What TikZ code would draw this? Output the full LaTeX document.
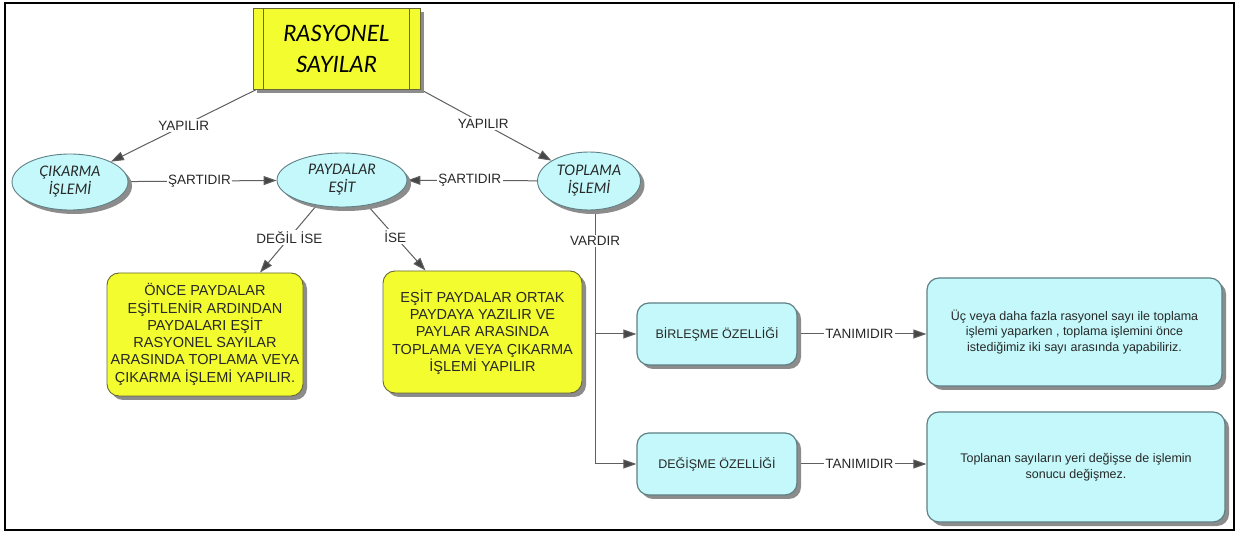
\documentclass[tikz,border=0pt]{standalone}
\usepackage{fontspec}
\setmainfont{Liberation Sans}
\newfontfamily\handfont{Lato}
\usetikzlibrary{arrows.meta,shapes.geometric,shadows,backgrounds}

\definecolor{boxyellow}{RGB}{242,252,46}
\definecolor{yellowedge}{RGB}{105,105,55}
\definecolor{paleblue}{RGB}{196,248,250}
\definecolor{blueedge}{RGB}{95,128,132}
\definecolor{linegray}{RGB}{95,95,95}
\definecolor{tipgray}{RGB}{70,70,70}
\definecolor{shade}{RGB}{140,140,140}
\definecolor{inkgray}{RGB}{40,40,40}

\begin{document}
\begin{tikzpicture}[x=1pt,y=-1pt,
  shadowed/.style={drop shadow={shadow xshift=4pt,shadow yshift=-4pt,fill=shade,opacity=1}},
  titlebox/.style={rectangle,draw=yellowedge,fill=boxyellow,line width=0.9pt,
    minimum width=167pt,minimum height=81pt,shadowed,align=center,
    font=\handfont\itshape\fontsize{22.5}{31}\selectfont},
  oval/.style={ellipse,draw=blueedge,fill=paleblue,line width=0.9pt,shadowed,
    align=center,inner sep=0pt,text=inkgray,
    font=\handfont\itshape\fontsize{14.5}{18}\selectfont},
  notebox/.style={rectangle,rounded corners=12pt,draw=yellowedge,fill=boxyellow,
    line width=0.9pt,shadowed,align=center,inner sep=2pt,text=inkgray,
    font=\fontsize{14.5}{17.3}\selectfont},
  propbox/.style={rectangle,rounded corners=12pt,draw=blueedge,fill=paleblue,
    line width=1.2pt,shadowed,align=center,inner sep=2pt,text=inkgray,
    font=\fontsize{12.5}{15.5}\selectfont},
  conn/.style={draw=linegray,line width=1pt},
  arr/.style={conn,-{Triangle[length=13pt,width=9pt,fill=tipgray]}},
  lbl/.style={fill=white,inner sep=1.5pt,text=inkgray,font=\fontsize{13.5}{15}\selectfont},
]
\useasboundingbox (0,0) rectangle (1243,534);
\begin{scope}[on background layer]
  \fill[white] (0,0) rectangle (1243,534);
\end{scope}

% title
\node[titlebox] (title) at (336.5,48.5) {RASYONEL\\SAYILAR};
\draw[yellowedge,line width=0.9pt] ([xshift=11pt]title.north west) -- ([xshift=11pt]title.south west);
\draw[yellowedge,line width=0.9pt] ([xshift=-11pt]title.north east) -- ([xshift=-11pt]title.south east);

% operations
\node[oval,minimum width=116pt,minimum height=56pt] (cik) at (70,182) {ÇIKARMA\\İŞLEMİ};
\node[oval,minimum width=130pt,minimum height=54pt] (pay) at (342,180) {PAYDALAR\\EŞİT};
\node[oval,minimum width=103pt,minimum height=58pt] (top) at (589,181) {TOPLAMA\\İŞLEMİ};

% rules for equal / unequal denominators
\node[notebox,minimum width=196pt,minimum height=123pt] (ly) at (205,334.5)
  {ÖNCE PAYDALAR\\EŞİTLENİR ARDINDAN\\PAYDALARI EŞİT\\RASYONEL SAYILAR\\ARASINDA TOPLAMA VEYA\\ÇIKARMA İŞLEMİ YAPILIR.};
\node[notebox,minimum width=199pt,minimum height=122pt] (my) at (482.5,332)
  {EŞİT PAYDALAR ORTAK\\PAYDAYA YAZILIR VE\\PAYLAR ARASINDA\\TOPLAMA VEYA ÇIKARMA\\İŞLEMİ YAPILIR};

% properties of addition
\node[propbox,minimum width=160pt,minimum height=62pt] (bir) at (717,334) {BİRLEŞME ÖZELLİĞİ};
\node[propbox,minimum width=160pt,minimum height=62pt] (deg) at (717,464) {DEĞİŞME ÖZELLİĞİ};
\node[propbox,minimum width=295pt,minimum height=108pt] (r1) at (1074.5,332)
  {Üç veya daha fazla rasyonel sayı ile toplama\\işlemi yaparken , toplama işlemini önce\\istediğimiz iki sayı arasında yapabiliriz.};
\node[propbox,minimum width=298pt,minimum height=110pt] (r2) at (1076,467)
  {Toplanan sayıların yeri değişse de işlemin\\sonucu değişmez.};

% connectors
\begin{scope}[on background layer]
  \draw[arr] ([xshift=4pt]title.south west) -- node[lbl,pos=0.5]{YAPILIR} (cik);
  \draw[arr] (title.south east) -- node[lbl,pos=0.48]{YAPILIR} (top);
  \draw[arr] (cik) -- node[lbl,pos=0.48]{ŞARTIDIR} (pay);
  \draw[arr] (top) -- node[lbl,pos=0.52]{ŞARTIDIR} (pay);
  \draw[arr] (pay.-135) -- node[lbl,pos=0.48]{DEĞİL İSE} ([xshift=55pt]ly.north);
  \draw[arr] (pay.-45) -- node[lbl,pos=0.48]{İSE} ([xshift=-57pt]my.north);
  \coordinate (vbot) at ([xshift=6pt]top.south |- deg.west);
  \draw[conn] ([xshift=6pt]top.south) -- node[lbl,pos=0.12]{VARDIR} (vbot);
  \draw[arr] (vbot) -- (deg.west);
  \draw[arr] (vbot |- bir.west) -- (bir.west);
  \draw[arr] (bir.east) -- node[lbl,pos=0.48]{TANIMIDIR} (bir.east -| r1.west);
  \draw[arr] (deg.east) -- node[lbl,pos=0.48]{TANIMIDIR} (deg.east -| r2.west);
\end{scope}

% outer frame
\draw[black,line width=2pt] (5,3) rectangle (1234,530);
\end{tikzpicture}
\end{document}
